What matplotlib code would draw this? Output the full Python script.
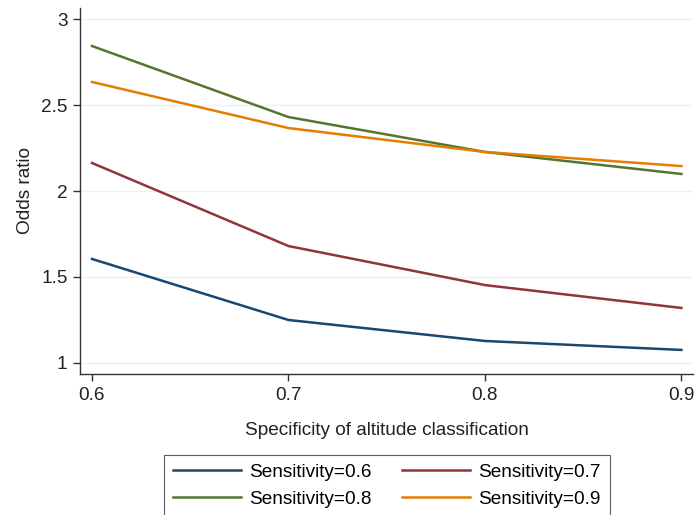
import matplotlib.pyplot as plt

plt.rcParams['font.family'] = ['Liberation Sans', 'DejaVu Sans']

specificity = [0.6, 0.7, 0.8, 0.9]
sens_06 = [1.605, 1.25, 1.128, 1.076]
sens_07 = [2.163, 1.68, 1.453, 1.32]
sens_08 = [2.843, 2.43, 2.227, 2.099]
sens_09 = [2.634, 2.366, 2.227, 2.145]
labels = ["Sensitivity=0.6", "Sensitivity=0.7", "Sensitivity=0.8", "Sensitivity=0.9"]
colors = ["#1a476f", "#90353b", "#55752f", "#e37e00"]

fig = plt.figure(figsize=(6.98, 5.15), dpi=100)
ax = fig.add_axes([80 / 698, 141 / 515, 613 / 698, 366 / 515])

lines = []
for ys, lab, c in zip([sens_06, sens_07, sens_08, sens_09], labels, colors):
    l, = ax.plot(specificity, ys, color=c, lw=1.8, label=lab)
    lines.append(l)

ax.set_xlim(0.5939, 0.9059)
ax.set_ylim(0.936, 3.064)
ax.set_xticks(specificity)
ax.set_xticklabels(["0.6", "0.7", "0.8", "0.9"])
ax.set_yticks([1, 1.5, 2, 2.5, 3])
ax.set_yticklabels(["1", "1.5", "2", "2.5", "3"])
ax.grid(axis='y', color='#eaf2f3', lw=1)
ax.set_axisbelow(True)
for s in ['top', 'right']:
    ax.spines[s].set_visible(False)
for s in ['left', 'bottom']:
    ax.spines[s].set_color('#333333')
    ax.spines[s].set_linewidth(1)
ax.tick_params(direction='out', length=5, width=1, color='#333333', labelsize=13.7, labelcolor='#222222', pad=4)
ax.set_xlabel("Specificity of altitude classification", fontsize=13.7, color='#222222', labelpad=13)
ax.set_ylabel("Odds ratio", fontsize=13.7, color='#222222', labelpad=5)

# legend fills row-wise like the original
order = [0, 2, 1, 3]
leg = fig.legend([lines[i] for i in order], [labels[i] for i in order],
                 loc='upper left', bbox_to_anchor=(164 / 698, 1 - 455 / 515), ncol=2,
                 borderaxespad=0, fontsize=13.7, frameon=True, fancybox=False,
                 handlelength=3.6, columnspacing=1.6, borderpad=0.45,
                 labelspacing=0.5, handletextpad=0.42)
leg.get_frame().set_edgecolor('#333333')
leg.get_frame().set_linewidth(0.8)

fig.savefig("out.png", dpi=100)
